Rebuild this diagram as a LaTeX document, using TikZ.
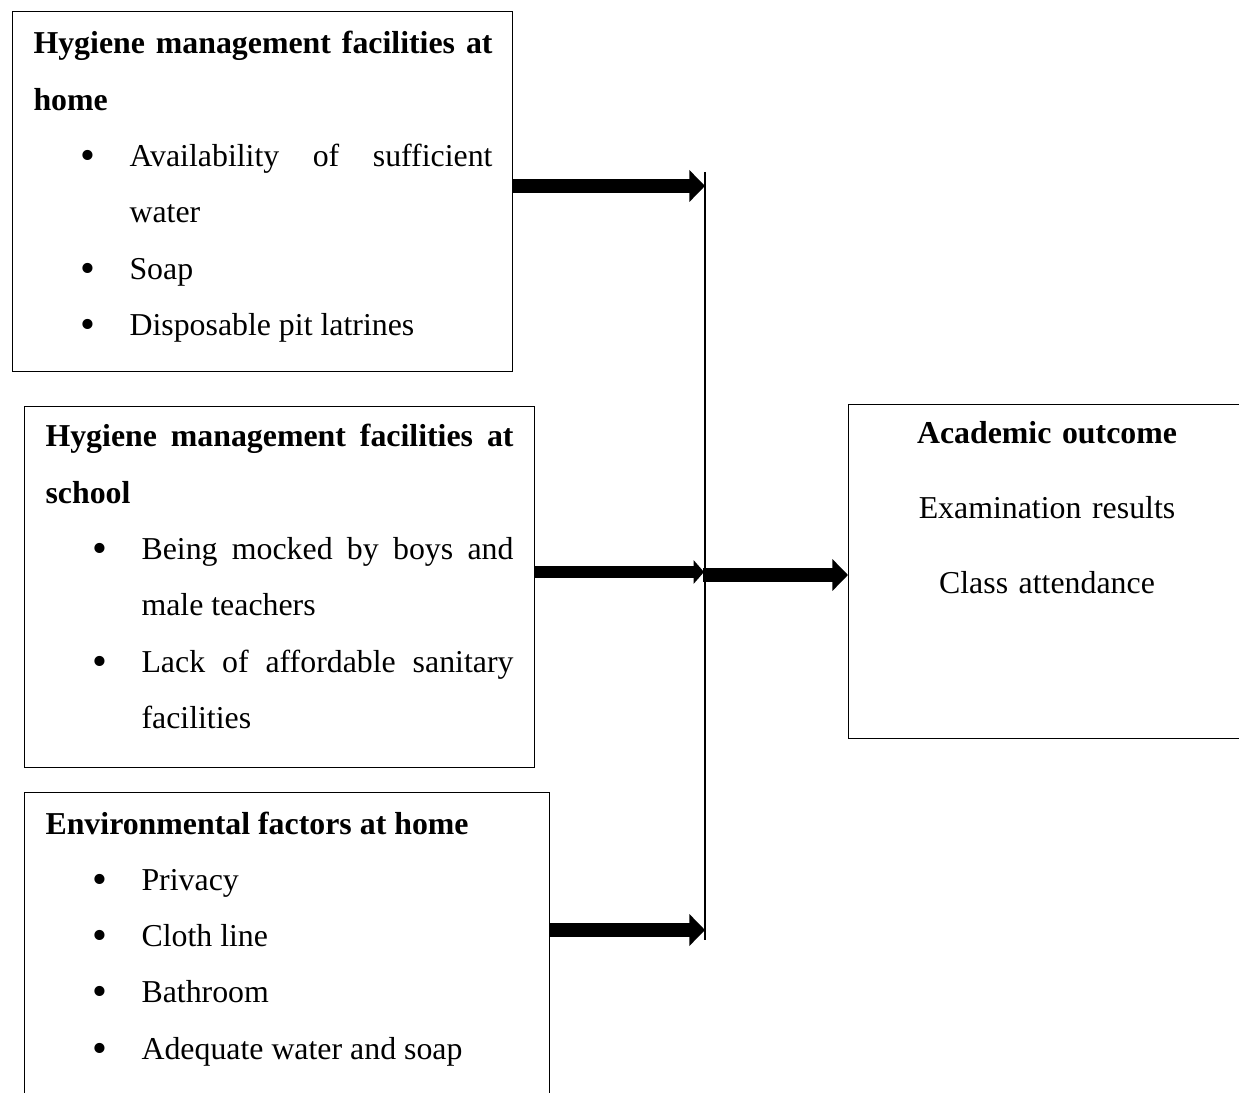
\documentclass[tikz,border=0pt]{standalone}
\usepackage{fontspec}
\setmainfont{Liberation Serif}
\usetikzlibrary{arrows.meta, positioning, calc}
\newdimen\px \px=0.3768pt
\tolerance=10000
\hyphenpenalty=10000
\newcommand{\itm}[1]{\par\leftskip=96\px\noindent\llap{\makebox[18.3pt][l]{\raisebox{-1.2pt}{\fontsize{16}{16}\selectfont\textbullet}}}#1\par}
\tikzstyle{factor}    = [rectangle, draw=black, line width=0.55pt, inner sep=0pt, anchor=north west]
\tikzstyle{body}      = [inner sep=0pt, anchor=base west, align=justify, font=\fontsize{12}{21.2}\selectfont]
\tikzstyle{arrow}     = [line width=5.3pt, -{Triangle[length=5.9pt, width=11.7pt]}]
\tikzstyle{thinarrow} = [line width=4.2pt, -{Triangle[length=3.9pt, width=8.7pt]}]
\begin{document}
\begin{tikzpicture}[x=0.3768pt, y=-0.3768pt]
  \useasboundingbox (0,0) rectangle (1239,1093);
  \node (homebox)   [factor, minimum width=500\px, minimum height=360\px] at (11.7,11) {};
  \node (schoolbox) [factor, minimum width=510\px, minimum height=361\px] at (24,406) {};
  \node (envbox)    [factor, minimum width=525\px, minimum height=320\px] at (24,792) {};
  \node (outbox)    [factor, minimum width=400\px, minimum height=334\px] at (848,404) {};

  \node (hometext) [body, text width=459\px] at (33,54) {\textbf{Hygiene management facilities at\linebreak home}
    \itm{Availability of sufficient\linebreak water}
    \itm{Soap}
    \itm{Disposable pit latrines}};
  \node (schooltext) [body, text width=468\px] at (45,447) {\textbf{Hygiene management facilities at\linebreak school}
    \itm{Being mocked by boys and\linebreak male teachers}
    \itm{Lack of affordable sanitary\linebreak facilities}};
  \node (envtext) [body, text width=480\px] at (45,834) {\textbf{Environmental factors at home}
    \itm{Privacy}
    \itm{Cloth line}
    \itm{Bathroom}
    \itm{Adequate water and soap}};
  \node (outtext) [body, anchor=base, align=center, text width=360\px, font=\fontsize{12}{28.1}\selectfont] at (1047,444) {\textbf{Academic outcome}\\Examination results\\Class attendance};

  \coordinate (jtop) at (705,172);
  \coordinate (jbot) at (705,940);
  \coordinate (j1) at (705,186);
  \coordinate (j2) at (704,572);
  \coordinate (j3) at (705,930);
  \coordinate (j4) at (703,575);
  \draw[line width=0.45pt] (jtop) -- (jbot);
  \draw[arrow] (homebox.east |- j1) -- (j1);
  \draw[thinarrow] (schoolbox.east |- j2) -- (j2);
  \draw[arrow] (envbox.east |- j3) -- (j3);
  \draw[arrow] (j4) -- (outbox.west |- j4);
\end{tikzpicture}
\end{document}
